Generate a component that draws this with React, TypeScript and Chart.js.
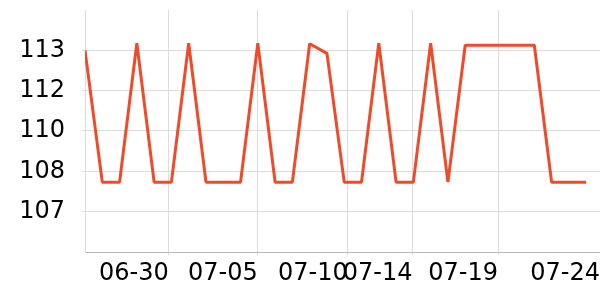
import React, { useEffect, useRef } from "react";
import { Chart, registerables } from "chart.js";

Chart.register(...registerables);

// daily closing values, one per day
const dates = [
  "06-25", "06-26", "06-27", "06-28", "06-29", "06-30",
  "07-01", "07-02", "07-03", "07-04", "07-05", "07-06",
  "07-07", "07-08", "07-09", "07-10", "07-11", "07-12",
  "07-13", "07-14", "07-15", "07-16", "07-17", "07-18",
  "07-19", "07-20", "07-21", "07-22", "07-23", "07-24",
];
const values = [
  113.1, 107.87, 107.87, 113.38, 107.87, 107.87,
  113.38, 107.87, 107.87, 107.87, 113.38, 107.87,
  107.87, 113.36, 112.98, 107.87, 107.87, 113.38,
  107.87, 107.87, 113.38, 107.87, 113.3, 113.3,
  113.3, 113.3, 113.3, 107.87, 107.87, 107.87,
];

// x-axis tick positions (in day index units) and their labels
const xTickValues = [4.85, 10.0, 15.2, 18.95, 23.9, 29.8];
const xTickLabels = ["06-30", "07-05", "07-10", "07-14", "07-19", "07-24"];

// y-axis tick values (labels shown rounded)
const yTickValues = [106.7, 108.3, 109.9, 111.5, 113.1];
const yMin = 105.1;
const yMax = 114.7;

export default function App() {
  const ref = useRef<HTMLCanvasElement | null>(null);

  useEffect(() => {
    document.body.style.margin = "0";
    if (!ref.current) return;
    const font = { family: "'DejaVu Sans'", size: 24 };
    const chart = new Chart(ref.current, {
      type: "line",
      data: {
        datasets: [
          {
            label: "value",
            data: values.map((v, i) => ({ x: i, y: v, d: dates[i] })),
            borderColor: "#ee4b2b",
            backgroundColor: "#ee4b2b",
            borderWidth: 3,
            borderJoinStyle: "bevel",
            pointRadius: 0,
            tension: 0,
            fill: false,
          },
        ],
      },
      options: {
        animation: false,
        responsive: false,
        maintainAspectRatio: false,
        layout: { padding: { left: 20, top: 10, right: 0, bottom: 0 } },
        plugins: { legend: { display: false }, tooltip: { enabled: false } },
        scales: {
          x: {
            type: "linear",
            min: 0,
            max: 29.8,
            afterBuildTicks: (scale: any) => {
              scale.ticks = xTickValues.map((v) => ({ value: v }));
            },
            afterFit: (scale: any) => {
              scale.height = 48;
              scale.paddingLeft = 0;
              scale.paddingRight = 0;
            },
            grid: {
              color: (ctx: any) =>
                ctx.index === xTickValues.length - 1 ? "rgba(0,0,0,0)" : "#dcdcdc",
              tickLength: 3,
            },
            border: { color: "#bbbbbb" },
            ticks: {
              autoSkip: false,
              maxRotation: 0,
              align: "end",
              padding: 4,
              color: "#000",
              font,
              callback: (_v: any, i: number) => xTickLabels[i],
            },
          },
          y: {
            min: yMin,
            max: yMax,
            afterBuildTicks: (scale: any) => {
              scale.ticks = yTickValues.map((v) => ({ value: v }));
            },
            afterFit: (scale: any) => {
              scale.width = 65;
              scale.paddingTop = 0;
              scale.paddingBottom = 0;
            },
            grid: { color: "#dcdcdc", tickLength: 3 },
            border: { color: "#dcdcdc" },
            ticks: {
              padding: 17,
              color: "#000",
              font,
              callback: (v: any) => Number(v).toFixed(0),
            },
          },
        },
      },
    });
    return () => chart.destroy();
  }, []);

  return (
    <div style={{ width: 600, height: 300 }}>
      <canvas ref={ref} width={600} height={300} style={{ display: "block" }} />
    </div>
  );
}
